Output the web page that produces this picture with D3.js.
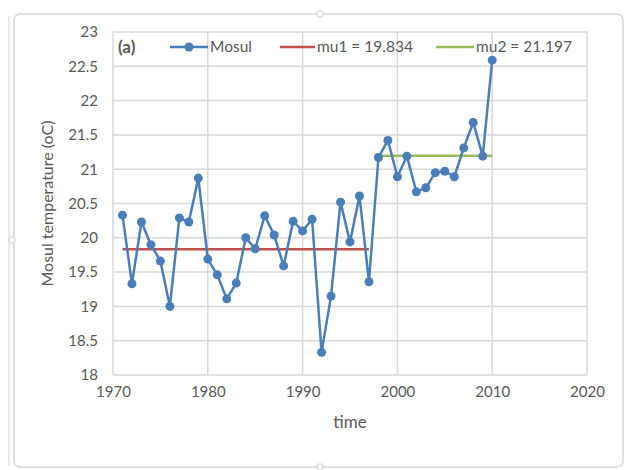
<!DOCTYPE html>
<meta charset="utf-8">
<head>
	<script src="https://d3js.org/d3.v7.min.js"></script>
	<style>
		body { margin: 0; background: #fff; }
		text { font-family: Lato, "Open Sans", sans-serif; fill: #595959; }
	</style>
</head>
<body>
<div id="D3_Chart"></div>
<script>
	'use strict';

	// Mosul annual mean temperature
	var years = [1971, 1972, 1973, 1974, 1975, 1976, 1977, 1978, 1979, 1980,
		1981, 1982, 1983, 1984, 1985, 1986, 1987, 1988, 1989, 1990,
		1991, 1992, 1993, 1994, 1995, 1996, 1997, 1998, 1999, 2000,
		2001, 2002, 2003, 2004, 2005, 2006, 2007, 2008, 2009, 2010];
	var mosul = [20.33, 19.33, 20.23, 19.90, 19.66, 19.00, 20.29, 20.23, 20.87, 19.69,
		19.46, 19.11, 19.34, 20.00, 19.84, 20.32, 20.04, 19.59, 20.24, 20.10,
		20.27, 18.33, 19.15, 20.52, 19.94, 20.61, 19.36, 21.17, 21.42, 20.89,
		21.19, 20.67, 20.73, 20.95, 20.97, 20.89, 21.31, 21.68, 21.19, 22.59];

	var mu1 = 19.834, mu1Years = [1971, 1997];
	var mu2 = 21.197, mu2Years = [1998, 2010];

	var xTicks = [1970, 1980, 1990, 2000, 2010, 2020];
	var yTicks = [18, 18.5, 19, 19.5, 20, 20.5, 21, 21.5, 22, 22.5, 23];

	var width = 626, height = 470;
	var margin = { top: 32, left: 113, right: 39, bottom: 95 };

	var svg = d3.select("#D3_Chart")
		.append("svg")
		.attr("width", width)
		.attr("height", height);

	// chart frame (rounded, like an excel chart object)
	svg.append("line")
		.attr("x1", 9).attr("x2", 9).attr("y1", 16).attr("y2", 466)
		.attr("stroke", "#e4e4e4").attr("stroke-width", 1.5);
	svg.append("rect")
		.attr("x", 14).attr("y", 14).attr("width", 609).attr("height", 453)
		.attr("rx", 6)
		.attr("fill", "#fff").attr("stroke", "#d6d6d6").attr("stroke-width", 1.5);
	[[320, 14], [320, 467], [12, 240]].forEach(function (p) {
		svg.append("rect")
			.attr("x", p[0] - 3).attr("y", p[1] - 3).attr("width", 6).attr("height", 6)
			.attr("rx", 2)
			.attr("fill", "#fff").attr("stroke", "#cfcfcf");
	});

	var xscale = d3.scaleLinear()
		.domain([1970, 2020])
		.range([margin.left, width - margin.right]);

	var yscale = d3.scaleLinear()
		.domain([18, 23])
		.range([height - margin.bottom, margin.top]);

	// gridlines
	var grid = svg.append("g");
	grid.selectAll(".hgrid")
		.data(yTicks)
		.enter().append("line")
		.attr("x1", xscale(1970)).attr("x2", xscale(2020))
		.attr("y1", function (d) { return yscale(d); })
		.attr("y2", function (d) { return yscale(d); })
		.attr("stroke", "#d9d9d9").attr("stroke-width", 1.5);
	grid.selectAll(".vgrid")
		.data(xTicks)
		.enter().append("line")
		.attr("y1", yscale(18)).attr("y2", yscale(23))
		.attr("x1", function (d) { return xscale(d); })
		.attr("x2", function (d) { return xscale(d); })
		.attr("stroke", "#d9d9d9").attr("stroke-width", 1.5);

	// axes (labels only)
	var xaxis = d3.axisBottom(xscale).tickValues(xTicks).tickFormat(d3.format("d")).tickSize(0).tickPadding(11);
	var yaxis = d3.axisLeft(yscale).tickValues(yTicks).tickFormat(function (d) { return d; }).tickSize(0).tickPadding(15);

	svg.append("g")
		.attr("transform", "translate(0," + yscale(18) + ")")
		.call(xaxis)
		.call(function (g) { g.select(".domain").remove(); })
		.selectAll("text").style("font-size", "15px").attr("fill", "#595959");

	svg.append("g")
		.attr("transform", "translate(" + xscale(1970) + ",0)")
		.call(yaxis)
		.call(function (g) { g.select(".domain").remove(); })
		.selectAll("text").style("font-size", "15px").attr("fill", "#595959");

	svg.append("text")
		.attr("x", xscale(1995)).attr("y", 428)
		.attr("text-anchor", "middle")
		.style("font-size", "17px")
		.text("time");

	svg.append("text")
		.attr("transform", "translate(53," + yscale(20.5) + ") rotate(-90)")
		.attr("text-anchor", "middle")
		.style("font-size", "16px")
		.text("Mosul temperature (oC)");

	// mean lines
	svg.append("line")
		.attr("x1", xscale(mu1Years[0])).attr("x2", xscale(mu1Years[1]))
		.attr("y1", yscale(mu1)).attr("y2", yscale(mu1))
		.attr("stroke", "#c0504d").attr("stroke-width", 2.5);
	svg.append("line")
		.attr("x1", xscale(mu2Years[0])).attr("x2", xscale(mu2Years[1]))
		.attr("y1", yscale(mu2)).attr("y2", yscale(mu2))
		.attr("stroke", "#9bbb59").attr("stroke-width", 2.5);

	// Mosul series
	var line = d3.line()
		.x(function (d, i) { return xscale(years[i]); })
		.y(function (d) { return yscale(d); });

	svg.append("path")
		.datum(mosul)
		.attr("d", line)
		.attr("fill", "none")
		.attr("stroke", "#4a7ebb")
		.attr("stroke-width", 2.5)
		.attr("stroke-linejoin", "round");

	svg.selectAll(".dot")
		.data(mosul)
		.enter().append("circle")
		.attr("class", "dot")
		.attr("cx", function (d, i) { return xscale(years[i]); })
		.attr("cy", function (d) { return yscale(d); })
		.attr("r", 4.5)
		.attr("fill", "#4a7ebb");

	// legend row
	var legY = 47;
	svg.append("text")
		.attr("x", 118).attr("y", legY + 6)
		.style("font-size", "17px").style("font-weight", "bold")
		.attr("fill", "#404040")
		.text("(a)");

	var legend = [
		{ name: "Mosul", color: "#4a7ebb", x1: 170, x2: 208, dot: true },
		{ name: "mu1 = 19.834", color: "#c0504d", x1: 280, x2: 315, dot: false },
		{ name: "mu2 = 21.197", color: "#9bbb59", x1: 436, x2: 474, dot: false }
	];
	legend.forEach(function (l) {
		svg.append("line")
			.attr("x1", l.x1).attr("x2", l.x2)
			.attr("y1", legY).attr("y2", legY)
			.attr("stroke", l.color).attr("stroke-width", 2.5);
		if (l.dot) {
			svg.append("circle")
				.attr("cx", (l.x1 + l.x2) / 2).attr("cy", legY).attr("r", 4.5)
				.attr("fill", l.color);
		}
		svg.append("text")
			.attr("x", l.x2 + 2).attr("y", legY + 5)
			.style("font-size", "15.5px")
			.text(l.name);
	});
</script>
</body>
